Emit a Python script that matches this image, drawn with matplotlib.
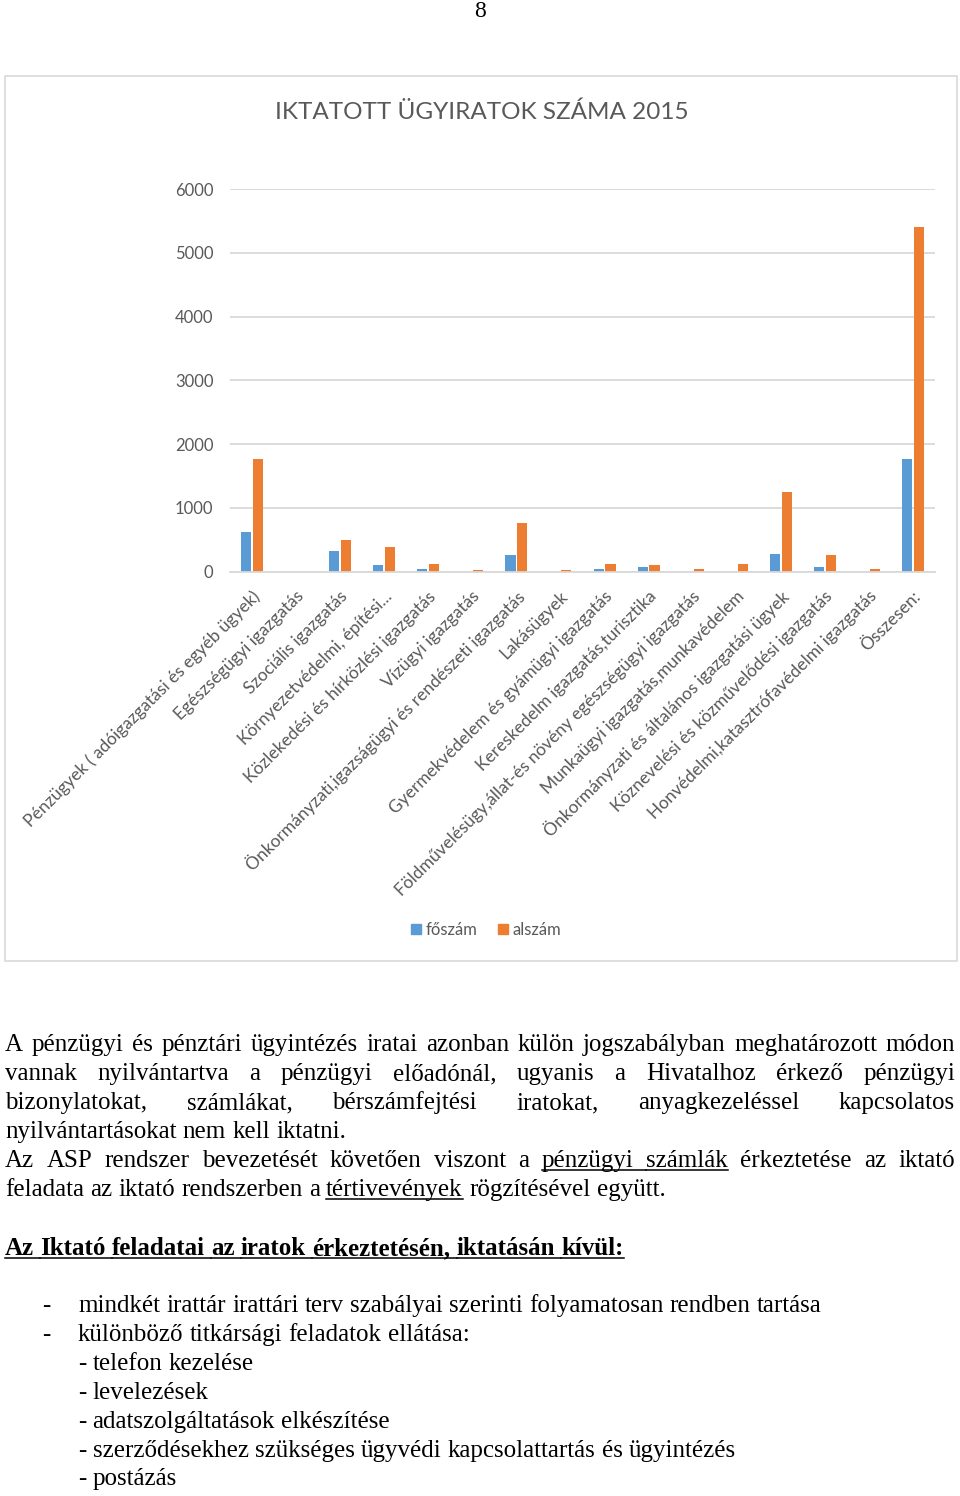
import matplotlib
matplotlib.use("Agg")
import matplotlib.pyplot as plt
from matplotlib.patches import Rectangle
from matplotlib.lines import Line2D
from matplotlib.transforms import ScaledTranslation
import numpy as np

# ---------------------------------------------------------------------
# Data
# ---------------------------------------------------------------------
TITLE = "IKTATOTT ÜGYIRATOK SZÁMA 2015"
CATEGORIES = [
    "Pénzügyek ( adóigazgatási és egyéb ügyek)",
    "Egészségügyi igazgatás",
    "Szociális igazgatás",
    "Környezetvédelmi, építési...",
    "Közlekedési és hírközlési igazgatás",
    "Vízügyi igazgatás",
    "Önkormányzati,igazságügyi és rendészeti igazgatás",
    "Lakásügyek",
    "Gyermekvédelem és gyámügyi igazgatás",
    "Kereskedelm igazgatás,turisztika",
    "Földművelésügy,állat-és növény egészségügyi igazgatás",
    "Munkaügyi igazgatás,munkavédelem",
    "Önkormányzati és általános igazgatási ügyek",
    "Köznevelési és közművelődési igazgatás",
    "Honvédelmi,katasztrófavédelmi igazgatás",
    "Összesen:",
]
FOSZAM = [620, 0, 321, 100, 38, 0, 258, 0, 35, 70, 0, 0, 274, 70, 0, 1764]
ALSZAM = [1770, 0, 499, 384, 116, 20, 762, 20, 116, 100, 40, 116, 1244, 258, 40, 5397]
SERIES = ["főszám", "alszám"]
Y_TICKS = [0, 1000, 2000, 3000, 4000, 5000, 6000]

PAGE_NUMBER = "8"
# (line, justified?, indices of underlined words)
PARA_LINES = [
    ("A pénzügyi és pénztári ügyintézés iratai azonban külön jogszabályban meghatározott módon", True, []),
    ("vannak nyilvántartva a pénzügyi előadónál, ugyanis a Hivatalhoz érkező pénzügyi", True, []),
    ("bizonylatokat, számlákat, bérszámfejtési iratokat, anyagkezeléssel kapcsolatos", True, []),
    ("nyilvántartásokat nem kell iktatni.", False, []),
    ("Az ASP rendszer bevezetését követően viszont a pénzügyi számlák érkeztetése az iktató", True, [7, 8]),
    ("feladata az iktató rendszerben a tértivevények rögzítésével együtt.", False, [5]),
]
HEADING = "Az Iktató feladatai az iratok érkeztetésén, iktatásán kívül:"
BULLETS = [
    ("-", "mindkét irattár irattári terv szabályai szerinti folyamatosan rendben tartása"),
    ("-", "különböző titkársági feladatok ellátása:"),
    ("", "- telefon kezelése"),
    ("", "- levelezések"),
    ("", "- adatszolgáltatások elkészítése"),
    ("", "- szerződésekhez szükséges ügyvédi kapcsolattartás és ügyintézés"),
    ("", "- postázás"),
]

BLUE = "#5B9BD5"
ORANGE = "#ED7D31"
GREY_TXT = "#595959"
GRID = "#D9D9D9"
SANS = "Lato"
SERIF = "Liberation Serif"

W, H = 960, 1496
fig = plt.figure(figsize=(W / 100, H / 100), dpi=100)


def fx(px):
    return px / W


def fy(py):
    return 1 - py / H


# chart frame
fig.add_artist(Rectangle((fx(5), fy(961)), fx(957) - fx(5), fy(76) - fy(961),
                         transform=fig.transFigure, fill=False,
                         edgecolor=GRID, linewidth=1.2))

ax = fig.add_axes([fx(230), fy(571.7), fx(935) - fx(230), fy(189) - fy(571.7)])
x = np.arange(len(CATEGORIES))
bw = 0.23
ax.bar(x - 0.135, FOSZAM, width=bw, color=BLUE, label=SERIES[0])
ax.bar(x + 0.135, ALSZAM, width=bw, color=ORANGE, label=SERIES[1])
ax.set_xlim(-0.5, len(CATEGORIES) - 0.5)
ax.set_ylim(0, 6000)
ax.set_yticks(Y_TICKS)
ax.set_yticklabels([str(v) for v in Y_TICKS], fontsize=12, color=GREY_TXT, family=SANS)
ax.grid(axis="y", color=GRID, linewidth=1.3)
ax.set_axisbelow(True)
for s in ["top", "right", "left"]:
    ax.spines[s].set_visible(False)
ax.spines["bottom"].set_color(GRID)
ax.spines["bottom"].set_linewidth(1.3)
ax.tick_params(axis="both", length=0)
ax.tick_params(axis="y", pad=12)
ax.set_xticks(x)
ax.set_xticklabels(CATEGORIES, rotation=45, ha="right", va="center",
                   rotation_mode="anchor", fontsize=12.5, color=GREY_TXT, family=SANS)
ax.tick_params(axis="x", pad=16)
offset = ScaledTranslation(5 / 100, 0, fig.dpi_scale_trans)
for lab in ax.get_xticklabels():
    lab.set_transform(lab.get_transform() + offset)

fig.text(fx(482), fy(112), TITLE, ha="center", va="center", fontsize=17.5,
         color=GREY_TXT, family=SANS)

handles = [Rectangle((0, 0), 1, 1, color=BLUE), Rectangle((0, 0), 1, 1, color=ORANGE)]
fig.legend(handles, SERIES, loc="center", bbox_to_anchor=(fx(486), fy(930)), ncol=2,
           frameon=False, handlelength=0.6, handleheight=0.6, handletextpad=0.3,
           columnspacing=1.2, prop={"family": SANS, "size": 12}, labelcolor=GREY_TXT)

# ---------------------------------------------------------------------
# Page text
# ---------------------------------------------------------------------
FS = 18
fig.text(fx(480), fy(17), PAGE_NUMBER, ha="center", va="baseline", fontsize=FS - 1, family=SERIF)

renderer = fig.canvas.get_renderer()


def text_width(s, weight):
    t = fig.text(0, 0, s, fontsize=FS, family=SERIF, weight=weight)
    w = t.get_window_extent(renderer).width
    t.remove()
    return w


def underline(x0, x1, base):
    fig.add_artist(Line2D([fx(x0), fx(x1)], [fy(base + 3), fy(base + 3)],
                          transform=fig.transFigure, color="black", linewidth=1.1))


def text_line(line, base, justify, under, x0=5, x1=955, weight="normal"):
    words = line.split(" ")
    arts = [fig.text(0, fy(base), w, ha="left", va="baseline", fontsize=FS,
                     family=SERIF, weight=weight) for w in words]
    widths = [a.get_window_extent(renderer).width for a in arts]
    sw = text_width("a a", weight) - text_width("aa", weight)
    gap = (x1 - x0 - sum(widths)) / (len(words) - 1) if justify else sw
    pos = x0
    starts = []
    for a, w in zip(arts, widths):
        a.set_x(fx(pos))
        starts.append(pos)
        pos += w + gap
    for i in under:
        end = starts[i] + widths[i]
        if i + 1 in under:
            end = starts[i + 1]
        underline(starts[i], end, base)


base = 1051
for line, just, under in PARA_LINES:
    text_line(line, base, just, under)
    base += 29

text_line(HEADING, 1255, False, list(range(len(HEADING.split(" ")))), weight="bold")

base = 1312
for dash, line in BULLETS:
    if dash:
        fig.text(fx(42), fy(base), dash, ha="left", va="baseline", fontsize=FS, family=SERIF)
    text_line(line, base, False, [], x0=78)
    base += 28.9

fig.savefig("out.png", dpi=100, facecolor="white")
